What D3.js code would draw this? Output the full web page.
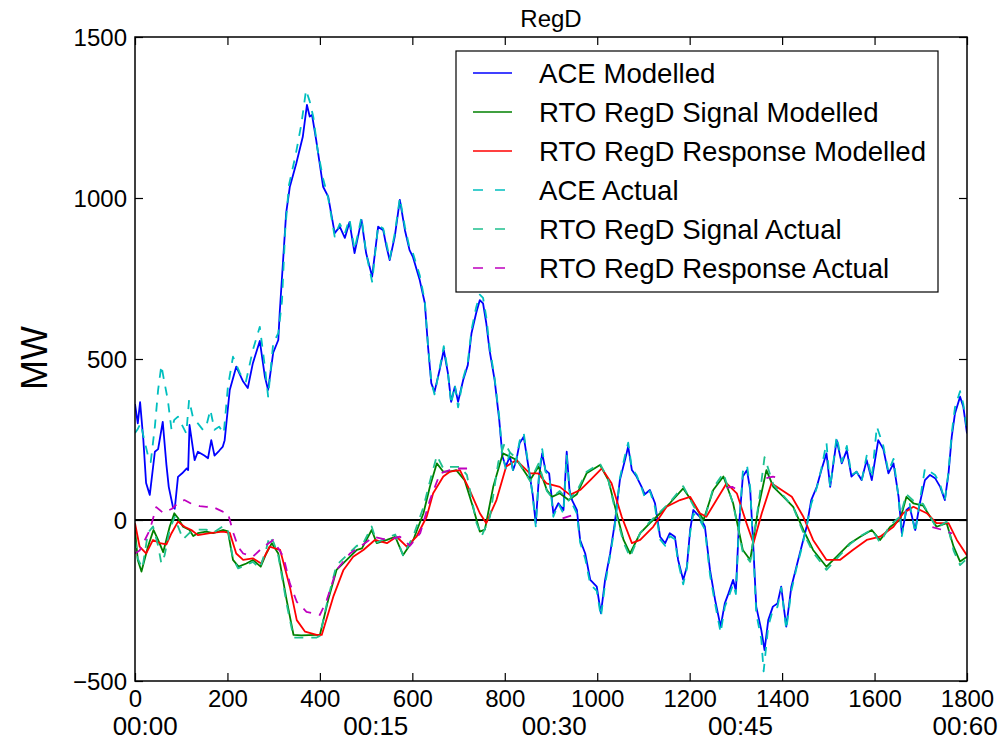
<!DOCTYPE html>
<html><head><meta charset="utf-8">
<script src="https://cdn.jsdelivr.net/npm/d3@7"></script>
<style>body{margin:0;background:#fff}svg{display:block}text{font-family:"Liberation Sans",Arial,sans-serif;fill:#000}</style>
</head><body><svg id="c" width="1007" height="743"></svg>
<script>
// ---- data (t in seconds, value in MW) ----
const xTicks = [0,200,400,600,800,1000,1200,1400,1600,1800];
const yTicks = [-500,0,500,1000,1500];
const timeLabels = ["00:00","00:15","00:30","00:45","00:60"];
const timeLabelPos = [22,521,907,1310,1796];

const aceModelled = [[0,360],[6,300],[11,366],[18,250],[24,115],[32,78],[43,212],[50,220],[60,305],[68,171],[73,103],[82,41],[86,35],[93,134],[102,145],[112,160],[115,155],[118,295],[129,186],[136,212],[150,200],[158,192],[165,248],[172,200],[182,215],[190,228],[194,248],[205,404],[219,476],[234,430],[244,410],[255,487],[270,556],[281,445],[288,404],[299,520],[310,559],[313,642],[327,953],[335,1035],[349,1108],[363,1190],[372,1289],[378,1253],[383,1258],[392,1180],[407,1035],[418,1004],[432,891],[443,911],[454,876],[464,925],[475,829],[490,932],[500,829],[513,756],[526,911],[537,900],[544,849],[551,807],[562,880],[573,994],[584,900],[594,838],[601,818],[616,745],[627,674],[634,538],[641,425],[648,398],[659,466],[668,528],[677,456],[684,367],[692,414],[699,367],[710,435],[720,481],[728,580],[738,642],[746,683],[753,673],[760,611],[767,528],[778,435],[788,311],[795,197],[802,166],[811,197],[818,155],[825,186],[832,238],[841,259],[850,176],[860,83],[867,-10],[874,135],[881,207],[888,155],[896,145],[905,21],[916,52],[927,31],[934,212],[940,93],[946,60],[956,31],[963,-62],[974,-104],[985,-186],[999,-207],[1008,-290],[1017,-186],[1028,-104],[1038,-10],[1049,124],[1060,186],[1067,228],[1075,155],[1085,135],[1096,103],[1103,80],[1114,93],[1125,52],[1136,-52],[1147,-72],[1157,-41],[1168,-52],[1175,-124],[1186,-186],[1194,-145],[1201,-31],[1208,31],[1222,10],[1233,-21],[1244,-155],[1255,-248],[1267,-331],[1276,-259],[1284,-228],[1294,-186],[1300,-220],[1306,-31],[1315,135],[1324,155],[1331,93],[1337,-62],[1344,-269],[1355,-342],[1362,-404],[1370,-311],[1380,-269],[1390,-259],[1398,-207],[1409,-331],[1420,-207],[1431,-145],[1442,-83],[1453,-21],[1463,62],[1475,103],[1485,155],[1496,207],[1504,103],[1518,248],[1529,176],[1540,217],[1550,135],[1561,150],[1572,124],[1583,186],[1594,124],[1608,248],[1619,220],[1630,145],[1641,176],[1652,72],[1659,-41],[1669,31],[1676,40],[1688,-31],[1698,52],[1709,124],[1720,140],[1731,130],[1742,103],[1752,62],[1760,145],[1767,259],[1774,331],[1785,383],[1792,352],[1800,269]];

const signalModelled = [[0,-30],[6,-124],[14,-160],[28,-83],[40,-31],[50,-62],[61,-100],[75,-21],[85,21],[93,6],[104,-21],[118,-31],[126,-50],[136,-41],[154,-36],[169,-41],[190,-31],[201,-35],[212,-124],[224,-145],[241,-135],[255,-124],[272,-145],[284,-104],[296,-72],[310,-104],[328,-248],[343,-357],[360,-358],[393,-357],[400,-357],[418,-248],[436,-155],[458,-124],[480,-93],[491,-88],[512,-31],[523,-72],[545,-62],[563,-52],[580,-109],[602,-62],[624,21],[638,103],[653,176],[667,150],[681,150],[695,155],[713,124],[731,41],[746,-36],[757,-30],[775,103],[796,207],[811,197],[826,186],[855,124],[873,166],[891,93],[902,72],[919,83],[938,62],[956,80],[977,145],[1006,171],[1024,124],[1042,21],[1057,-62],[1071,-104],[1093,-41],[1114,-10],[1136,21],[1157,52],[1186,98],[1208,52],[1230,0],[1251,93],[1273,135],[1294,52],[1315,-93],[1331,-124],[1349,41],[1366,155],[1381,103],[1403,72],[1424,41],[1446,-31],[1467,-93],[1496,-145],[1518,-114],[1547,-72],[1569,-52],[1594,-31],[1612,-62],[1634,-21],[1655,0],[1669,72],[1684,52],[1705,45],[1734,-21],[1756,-10],[1771,-83],[1785,-129],[1800,-114]];

const responseModelled = [[0,-10],[10,-83],[24,-104],[39,-62],[54,-72],[68,-76],[79,-41],[93,-5],[107,-21],[122,-31],[136,-47],[162,-41],[190,-36],[205,-40],[219,-104],[234,-124],[255,-119],[273,-135],[291,-83],[314,-93],[335,-207],[350,-311],[368,-347],[393,-357],[404,-357],[429,-238],[451,-155],[472,-114],[494,-93],[519,-62],[545,-72],[566,-52],[588,-83],[609,-52],[631,10],[645,83],[667,135],[681,150],[703,155],[724,93],[746,21],[760,-10],[782,62],[803,166],[825,186],[854,145],[872,145],[890,114],[919,103],[941,78],[963,93],[985,124],[1010,160],[1031,114],[1053,10],[1075,-72],[1093,-62],[1121,-21],[1150,41],[1179,62],[1201,72],[1222,21],[1236,10],[1258,62],[1280,114],[1302,83],[1323,-10],[1338,-72],[1356,21],[1377,114],[1399,93],[1421,72],[1446,10],[1467,-62],[1496,-124],[1525,-124],[1553,-93],[1583,-62],[1612,-52],[1641,-21],[1662,21],[1684,41],[1713,21],[1734,-10],[1760,-10],[1778,-62],[1800,-110]];

const aceActual = [[0,270],[5,280],[12,300],[20,250],[28,200],[34,180],[43,290],[50,404],[57,480],[64,425],[71,373],[79,280],[85,311],[93,321],[100,300],[111,269],[117,373],[125,321],[136,300],[147,280],[154,290],[163,342],[172,280],[182,290],[192,269],[201,414],[212,507],[227,456],[240,430],[255,528],[270,600],[281,476],[288,383],[299,549],[310,580],[318,680],[325,900],[333,1040],[347,1130],[360,1230],[370,1335],[378,1300],[386,1250],[395,1150],[407,1060],[418,1000],[432,880],[443,920],[454,890],[464,935],[475,840],[490,940],[500,830],[513,740],[526,915],[537,905],[544,860],[551,810],[562,890],[573,1000],[584,910],[594,845],[601,830],[616,760],[627,680],[634,540],[641,430],[648,390],[659,470],[668,540],[677,460],[684,360],[692,420],[699,350],[710,440],[720,490],[728,590],[738,660],[746,700],[753,690],[760,630],[767,540],[778,440],[788,320],[795,200],[802,160],[811,210],[818,150],[825,190],[832,245],[841,270],[850,180],[860,80],[867,-20],[874,140],[881,220],[888,150],[896,140],[905,10],[916,50],[927,20],[934,200],[940,90],[946,50],[956,20],[963,-70],[974,-120],[985,-200],[999,-220],[1008,-300],[1017,-200],[1028,-110],[1038,-20],[1049,130],[1060,200],[1067,240],[1075,160],[1085,140],[1096,100],[1103,70],[1114,90],[1125,40],[1136,-60],[1147,-80],[1157,-50],[1168,-60],[1175,-130],[1186,-200],[1194,-150],[1201,-40],[1208,20],[1222,0],[1233,-30],[1244,-170],[1255,-260],[1267,-350],[1276,-270],[1284,-240],[1294,-200],[1300,-230],[1306,-40],[1315,150],[1324,170],[1331,100],[1337,-70],[1344,-290],[1355,-370],[1360,-470],[1370,-330],[1380,-280],[1390,-270],[1398,-210],[1409,-340],[1420,-220],[1431,-150],[1442,-90],[1453,-20],[1463,50],[1475,100],[1485,160],[1496,240],[1504,100],[1518,260],[1529,180],[1540,230],[1550,140],[1561,150],[1572,120],[1583,200],[1594,130],[1605,290],[1619,230],[1630,150],[1641,190],[1652,70],[1659,-50],[1669,40],[1676,50],[1688,-40],[1698,60],[1709,160],[1720,150],[1731,140],[1742,110],[1752,60],[1760,150],[1767,270],[1774,350],[1785,400],[1792,360],[1800,280]];

const signalActual = [[0,-60],[6,-120],[16,-150],[28,-40],[39,-20],[50,-80],[57,-135],[64,-110],[75,-30],[86,10],[93,-20],[104,-60],[118,-40],[136,-30],[154,-30],[169,-40],[190,-20],[201,-30],[212,-120],[223,-150],[241,-140],[255,-130],[270,-150],[284,-90],[291,-50],[300,-70],[310,-110],[328,-260],[343,-365],[393,-365],[400,-360],[418,-240],[436,-140],[458,-110],[480,-80],[491,-80],[512,-20],[523,-70],[545,-55],[563,-45],[580,-110],[602,-50],[624,40],[638,120],[653,200],[667,160],[681,165],[703,165],[718,140],[739,-10],[750,-50],[768,10],[786,180],[800,240],[811,210],[826,190],[855,120],[873,175],[891,90],[902,70],[919,90],[938,60],[956,90],[977,150],[1006,175],[1024,125],[1042,10],[1057,-70],[1071,-115],[1093,-40],[1114,-5],[1136,25],[1157,55],[1186,105],[1208,45],[1230,-10],[1251,100],[1273,145],[1294,50],[1315,-100],[1331,-130],[1349,50],[1362,195],[1381,110],[1403,75],[1424,40],[1446,-40],[1467,-100],[1496,-155],[1518,-120],[1547,-75],[1569,-50],[1594,-30],[1612,-70],[1634,-15],[1655,10],[1669,80],[1684,60],[1705,50],[1734,-25],[1756,-5],[1771,-95],[1785,-140],[1800,-120]];

// null marks a gap in the recorded response
const responseActual = [[0,-104],[10,-95],[18,-72],[32,-31],[46,40],[61,22],[80,35],[95,55],[107,62],[120,52],[140,43],[155,41],[166,42],[190,26],[201,21],[213,-41],[223,-83],[234,-104],[255,-114],[278,-83],[299,-62],[321,-114],[335,-197],[350,-254],[371,-285],[400,-295],[415,-248],[436,-155],[465,-104],[487,-83],[516,-52],[545,-62],[573,-52],[595,-80],[617,-41],[638,62],[660,145],[681,155],[700,160],[720,160],[721,null],[925,5],[935,10],[947,15],[948,null],[1280,100],[1292,103],[1301,95],[1302,null],[1366,130],[1380,135],[1396,130],[1397,null],[1725,-22],[1745,-30],[1768,-42]];

const seriesNames = ["ACE Modelled","RTO RegD Signal Modelled","RTO RegD Response Modelled","ACE Actual","RTO RegD Signal Actual","RTO RegD Response Actual"];
const seriesColors = ["#0000ff","#008000","#ff0000","#00bfbf","#1fc08f","#bf00bf"];
const seriesDashed = [false,false,false,true,true,true];
const seriesData = [aceModelled,signalModelled,responseModelled,aceActual,signalActual,responseActual];

// ---- drawing ----
const svg = d3.select("#c");
const L=135,R=967,T=37,B=681;
const x = d3.scaleLinear().domain([0,1800]).range([L,R]);
const y = d3.scaleLinear().domain([-500,1500]).range([B,T]);

svg.append("clipPath").attr("id","pc").append("rect").attr("x",L).attr("y",T).attr("width",R-L).attr("height",B-T);
const plot = svg.append("g").attr("clip-path","url(#pc)");

// zero line
plot.append("line").attr("x1",L).attr("x2",R).attr("y1",y(0)).attr("y2",y(0)).attr("stroke","#000").attr("stroke-width",2);

const line = d3.line().defined(d=>d[1]!==null).x(d=>x(d[0])).y(d=>y(d[1]));
seriesData.forEach((data,i)=>{
  plot.append("path").datum(data).attr("d",line).attr("fill","none")
    .attr("stroke",seriesColors[i]).attr("stroke-width",1.8)
    .attr("stroke-linejoin","round")
    .attr("stroke-dasharray",seriesDashed[i]?"9,8":null);
});

// axes
const ax = svg.append("g").attr("transform",`translate(0,${B})`)
  .call(d3.axisBottom(x).tickValues(xTicks).tickSizeInner(-8).tickSizeOuter(0).tickPadding(9).tickFormat(d3.format("")));
const ay = svg.append("g").attr("transform",`translate(${L},0)`)
  .call(d3.axisLeft(y).tickValues(yTicks).tickSizeInner(-8).tickSizeOuter(0).tickPadding(8).tickFormat(d3.format("")));
const at = svg.append("g").attr("transform",`translate(0,${T})`)
  .call(d3.axisTop(x).tickValues(xTicks).tickSizeInner(-8).tickSizeOuter(0).tickFormat(""));
const ar = svg.append("g").attr("transform",`translate(${R},0)`)
  .call(d3.axisRight(y).tickValues(yTicks).tickSizeInner(-8).tickSizeOuter(0).tickFormat(""));
[ax,ay,at,ar].forEach(g=>{
  g.select(".domain").remove();
  g.selectAll(".tick line").attr("stroke","#000").attr("stroke-width",1.2);
  g.selectAll("text").attr("font-family","Liberation Sans, Arial, sans-serif").attr("font-size",24).attr("fill","#000");
});
ay.selectAll("text").attr("dy","0.36em");

// time labels (second row)
svg.append("g").selectAll("text").data(timeLabels).join("text")
  .attr("x",(d,i)=>x(timeLabelPos[i])).attr("y",735).attr("text-anchor","middle")
  .attr("font-size",26).text(d=>d);

// frame
svg.append("rect").attr("x",L).attr("y",T).attr("width",R-L).attr("height",B-T)
  .attr("fill","none").attr("stroke","#000").attr("stroke-width",1.5);

// title & y label
svg.append("text").attr("x",(L+R)/2).attr("y",27).attr("text-anchor","middle").attr("font-size",24).text("RegD");
svg.append("text").attr("transform","translate(47,358) rotate(-90)").attr("text-anchor","middle").attr("font-size",36).text("MW");

// legend
const lg = svg.append("g");
lg.append("rect").attr("x",456).attr("y",51).attr("width",482).attr("height",241)
  .attr("fill","#fff").attr("stroke","#000").attr("stroke-width",1.2);
seriesNames.forEach((n,i)=>{
  const cy = 73 + i*39;
  lg.append("line").attr("x1",473).attr("x2",512).attr("y1",cy).attr("y2",cy)
    .attr("stroke",seriesColors[i]).attr("stroke-width",1.6)
    .attr("stroke-dasharray",seriesDashed[i]?"10,12":null);
  lg.append("text").attr("x",539).attr("y",cy).attr("dy","0.36em").attr("font-size",27.6).text(n);
});
</script></body></html>
